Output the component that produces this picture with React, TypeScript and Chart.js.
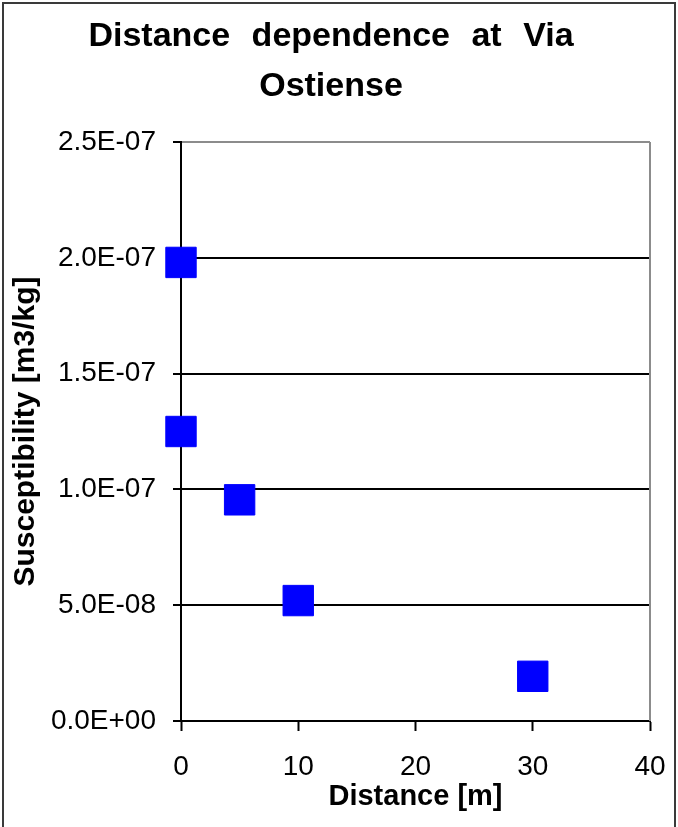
import React, { useEffect, useRef } from 'react';
import { Chart, registerables } from 'chart.js';

Chart.register(...registerables);

// Measured susceptibility against distance from the road
const distances = [0, 0, 5, 10, 30];
const susceptibility = [1.98e-7, 1.25e-7, 9.55e-8, 5.2e-8, 1.93e-8];

const xTicks = [0, 10, 20, 30, 40];
const yTicks = [0, 5e-8, 1e-7, 1.5e-7, 2e-7, 2.5e-7];
const yTickLabels = ['0.0E+00', '5.0E-08', '1.0E-07', '1.5E-07', '2.0E-07', '2.5E-07'];

const titleLines = ['Distance dependence at Via', 'Ostiense'];
const xTitle = 'Distance [m]';
const yTitle = 'Susceptibility [m3/kg]';

const FONT = "'Liberation Sans', Arial, sans-serif";
const W = 678;
const H = 827;

// Paints the white background, the grey right edge of the plot box and the outer frame,
// and gives the chart title its wider word spacing.
const framePlugin = {
  id: 'frame',
  beforeDraw(chart: any) {
    const { ctx } = chart;
    const tb = chart.titleBlock;
    if (tb && !tb.__spaced) {
      const orig = tb.draw.bind(tb);
      tb.draw = (...args: any[]) => {
        const c: any = chart.ctx;
        c.save();
        c.wordSpacing = '12px';
        orig(...args);
        c.restore();
      };
      tb.__spaced = true;
    }
    ctx.save();
    ctx.fillStyle = '#ffffff';
    ctx.fillRect(0, 0, chart.width, chart.height);
    ctx.restore();
  },
  beforeDatasetsDraw(chart: any) {
    const { ctx, chartArea } = chart;
    ctx.save();
    ctx.strokeStyle = '#8c8c8c';
    ctx.lineWidth = 2;
    ctx.beginPath();
    ctx.moveTo(chartArea.right, chartArea.top);
    ctx.lineTo(chartArea.right, chartArea.bottom);
    ctx.stroke();
    ctx.restore();
  },
  afterDraw(chart: any) {
    const { ctx } = chart;
    ctx.save();
    ctx.strokeStyle = '#3a3a3a';
    ctx.lineWidth = 2;
    ctx.strokeRect(3, 3, chart.width - 6, chart.height + 10);
    ctx.restore();
  },
};

export default function App() {
  const canvasRef = useRef<HTMLCanvasElement | null>(null);

  useEffect(() => {
    const canvas = canvasRef.current;
    if (!canvas) return;

    const chart = new Chart(canvas, {
      type: 'scatter',
      data: {
        datasets: [
          {
            data: distances.map((d, i) => ({ x: d, y: susceptibility[i] })),
            pointStyle: 'rect',
            pointRadius: 21.5,
            pointHoverRadius: 21.5,
            backgroundColor: '#0000ff',
            borderColor: '#0000ff',
            borderWidth: 1,
            showLine: false,
            clip: false as any,
          },
        ],
      },
      options: {
        responsive: false,
        animation: false,
        events: [],
        layout: { padding: { left: 12, right: 28, top: 0, bottom: 0 } },
        plugins: {
          legend: { display: false },
          tooltip: { enabled: false },
          title: {
            display: true,
            text: titleLines,
            color: '#000',
            font: { family: FONT, size: 34, weight: 'bold', lineHeight: 50 / 34 },
            padding: { top: 12, bottom: 30 },
          },
        },
        scales: {
          x: {
            type: 'linear',
            min: 0,
            max: 40,
            afterBuildTicks: (scale: any) => {
              scale.ticks = xTicks.map((v) => ({ value: v }));
            },
            afterFit: (scale: any) => {
              scale.height = H - 721;
              scale.paddingLeft = 0;
              scale.paddingRight = 0;
            },
            ticks: {
              autoSkip: false,
              maxRotation: 0,
              color: '#000',
              padding: 19,
              font: { family: FONT, size: 28 },
              callback: (v: any) => String(v),
            },
            grid: {
              drawOnChartArea: false,
              drawTicks: true,
              tickLength: 10,
              tickColor: '#000',
              tickWidth: 2,
            },
            border: { display: true, color: '#000', width: 2 },
            title: {
              display: true,
              text: xTitle,
              color: '#000',
              font: { family: FONT, size: 29, weight: 'bold', lineHeight: 1.2 },
              padding: { top: 0, bottom: 12.6 },
            },
          },
          y: {
            type: 'linear',
            min: 0,
            max: 2.5e-7,
            afterBuildTicks: (scale: any) => {
              scale.ticks = yTicks.map((v) => ({ value: v }));
            },
            afterFit: (scale: any) => {
              scale.width = 181 - 12;
            },
            ticks: {
              autoSkip: false,
              color: '#000',
              padding: 17,
              font: { family: FONT, size: 28 },
              callback: (_v: any, i: number) => yTickLabels[i],
            },
            grid: {
              drawTicks: true,
              tickLength: 8,
              lineWidth: 2,
              color: (ctx: any) => (ctx.index === yTicks.length - 1 ? '#8c8c8c' : '#000'),
              tickColor: '#000',
              tickWidth: 2,
            },
            border: { display: true, color: '#000', width: 2 },
            title: {
              display: true,
              text: yTitle,
              color: '#000',
              font: { family: FONT, size: 30, weight: 'bold', lineHeight: 1 },
              padding: { top: -1, bottom: 0 },
            },
          },
        },
      },
      plugins: [framePlugin],
    });

    return () => chart.destroy();
  }, []);

  return (
    <div style={{ position: 'fixed', left: 0, top: 0, width: W, height: H, background: '#fff' }}>
      <canvas ref={canvasRef} width={W} height={H} style={{ display: 'block', width: W, height: H }} />
    </div>
  );
}
